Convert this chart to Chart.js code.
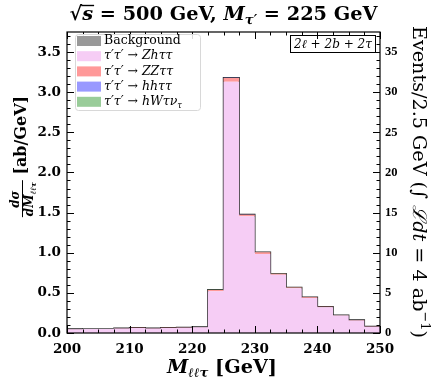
<!DOCTYPE html>
<html>
<head>
<meta charset="utf-8">
<script src="https://cdn.jsdelivr.net/npm/chart.js@4.4.1/dist/chart.umd.min.js"></script>
<style>
  html, body { margin: 0; padding: 0; background: #fff; }
  #wrap { width: 436px; height: 387px; position: relative; }
</style>
</head>
<body>
<div id="wrap"><canvas id="chart"></canvas></div>
<script>
// histogram bins: 2.5 GeV wide, 200 - 250 GeV (left edges)
const binStart = 200;
const binWidth = 2.5;

// dsigma/dM [ab/GeV] per bin
const background = [0.001, 0.001, 0.001, 0.001, 0.001, 0.001, 0.001, 0.001, 0.001, 0.001,
                    0.001, 0.001, 0.001, 0.001, 0.001, 0.001, 0.001, 0.001, 0.001, 0.001];
const zhtt = [0.046, 0.051, 0.051, 0.056, 0.061, 0.056, 0.061, 0.065, 0.070, 0.520,
              3.130, 1.452, 0.982, 0.725, 0.556, 0.436, 0.320, 0.216, 0.156, 0.077];
const zztt = [0.002, 0.002, 0.002, 0.002, 0.002, 0.002, 0.002, 0.003, 0.003, 0.015,
              0.046, 0.021, 0.023, 0.012, 0.010, 0.008, 0.006, 0.005, 0.004, 0.002];
const hhtt = [0.0005, 0.0005, 0.0005, 0.0005, 0.0005, 0.0005, 0.0005, 0.0005, 0.0005, 0.001,
              0.002, 0.001, 0.001, 0.001, 0.001, 0.001, 0.0005, 0.0005, 0.0005, 0.0005];
const hwtn = [0.0005, 0.0005, 0.0005, 0.0005, 0.0005, 0.0005, 0.0005, 0.0005, 0.0005, 0.001,
              0.001, 0.001, 0.001, 0.001, 0.0005, 0.0005, 0.0005, 0.0005, 0.0005, 0.0005];

// axis ranges / ticks
const xMin = 200, xMax = 250, xMajor = 10, xMinor = 2.5;
const yMax = 3.75, yMajor = 0.5, yMinor = 0.1;
const eventsScale = 10;   // 2.5 GeV * 4 ab^-1

const serif = '"DejaVu Serif", "Liberation Serif", serif';

// step points: value holds from the left edge until the next point
function steps(vals) {
  const pts = vals.map((v, i) => ({ x: binStart + i * binWidth, y: v }));
  pts.push({ x: binStart + vals.length * binWidth, y: vals[vals.length - 1] });
  return pts;
}

const total = zhtt.map((v, i) => v + background[i] + zztt[i] + hhtt[i] + hwtn[i]);

const series = [
  { label: 'Background', vals: background, color: 'rgb(153,153,153)', parts: [['Background', 'n']] },
  { label: "τ'τ' → Zhττ", vals: zhtt, color: 'rgb(246,205,245)', parts: [['τ′τ′', 'i'], [' → ', 'n'], ['Zhττ', 'i']] },
  { label: "τ'τ' → ZZττ", vals: zztt, color: 'rgb(255,153,153)', parts: [['τ′τ′', 'i'], [' → ', 'n'], ['ZZττ', 'i']] },
  { label: "τ'τ' → hhττ", vals: hhtt, color: 'rgb(153,153,255)', parts: [['τ′τ′', 'i'], [' → ', 'n'], ['hhττ', 'i']] },
  { label: "τ'τ' → hWτν", vals: hwtn, color: 'rgb(153,204,153)', parts: [['τ′τ′', 'i'], [' → ', 'n'], ['hWτν', 'i'], ['τ', 'is']] }
];

const datasets = series.map((s, i) => ({
  label: s.label,
  data: steps(s.vals),
  stepped: true,
  fill: i === 0 ? 'origin' : '-1',
  backgroundColor: s.color,
  borderWidth: 0,
  pointRadius: 0,
  stack: 'sig'
}));
datasets.push({
  label: 'total',
  data: steps(total),
  stepped: true,
  fill: false,
  borderColor: '#222',
  borderWidth: 1.4,
  pointRadius: 0,
  stack: 'outline'
});

// text runs: n normal, i italic, s subscript, p superscript
let boldText = false;
function fontFor(kind, size) {
  const it = kind.indexOf('i') >= 0 ? 'italic ' : '';
  const sz = (kind.indexOf('s') >= 0 || kind.indexOf('p') >= 0) ? size * 0.68 : size;
  return it + (boldText ? 'bold ' : '') + sz + 'px ' + serif;
}
function runWidth(ctx, parts, size) {
  let w = 0;
  parts.forEach(p => {
    ctx.font = fontFor(p[1], size);
    w += ctx.measureText(p[0]).width;
  });
  return w;
}
function drawRun(ctx, parts, x, y, size) {
  ctx.textAlign = 'left';
  ctx.textBaseline = 'middle';
  parts.forEach(p => {
    ctx.font = fontFor(p[1], size);
    let dy = 0;
    if (p[1].indexOf('s') >= 0) dy = size * 0.3;
    if (p[1].indexOf('p') >= 0) dy = -size * 0.35;
    ctx.fillText(p[0], x, y + dy);
    x += ctx.measureText(p[0]).width;
  });
  return x;
}
// font size that makes a run span a given width
function fitSize(ctx, parts, width) {
  return 16 * width / runWidth(ctx, parts, 16);
}

function keepMultiples(step) {
  return scale => {
    scale.ticks = scale.ticks.filter(t => Math.abs(t.value / step - Math.round(t.value / step)) < 1e-6);
  };
}

const decorations = {
  id: 'decorations',
  afterDraw(chart) {
    const ctx = chart.ctx;
    const a = chart.chartArea;
    const xs = chart.scales.x, ys = chart.scales.y;
    ctx.save();
    ctx.fillStyle = '#000';
    ctx.strokeStyle = '#000';

    // frame
    ctx.lineWidth = 1.2;
    ctx.strokeRect(a.left, a.top, a.right - a.left, a.bottom - a.top);

    // inward ticks, all four sides
    ctx.lineWidth = 1;
    ctx.beginPath();
    for (let v = xMin; v <= xMax + 1e-6; v += xMinor) {
      const px = Math.round(xs.getPixelForValue(v)) + 0.5;
      const len = Math.abs(v % xMajor) < 1e-6 ? 7 : 3.5;
      ctx.moveTo(px, a.bottom); ctx.lineTo(px, a.bottom - len);
      ctx.moveTo(px, a.top); ctx.lineTo(px, a.top + len);
    }
    for (let k = 0; k * yMinor <= yMax + 1e-6; k++) {
      const py = Math.round(ys.getPixelForValue(k * yMinor)) + 0.5;
      const len = k % 5 === 0 ? 7 : 3.5;
      ctx.moveTo(a.left, py); ctx.lineTo(a.left + len, py);
      ctx.moveTo(a.right, py); ctx.lineTo(a.right - len, py);
    }
    ctx.stroke();

    boldText = true;
    // title
    const tparts = [['√', 'n'], ['s', 'i'], [' = 500 GeV, ', 'n'], ['M', 'i'], ['τ′', 'is'], [' = 225 GeV', 'n']];
    const tsize = fitSize(ctx, tparts, 308);
    const tw = runWidth(ctx, tparts, tsize);
    const t0 = (a.left + a.right) / 2 - tw / 2;
    drawRun(ctx, tparts, t0, 15, tsize);
    ctx.font = fontFor('n', tsize);
    const rootX = t0 + ctx.measureText('√').width;
    ctx.font = fontFor('i', tsize);
    ctx.beginPath();
    ctx.lineWidth = 1.4;
    ctx.moveTo(rootX - 1, 5.5); ctx.lineTo(rootX + ctx.measureText('s').width + 1, 5.5);
    ctx.stroke();

    // x axis title
    const xparts = [['M', 'i'], ['ℓℓτ', 'is'], [' [GeV]', 'n']];
    const xsize = fitSize(ctx, xparts, 110);
    const xw = runWidth(ctx, xparts, xsize);
    drawRun(ctx, xparts, 222 - xw / 2, 368, xsize);

    // left y title (rotated), fraction + units
    ctx.save();
    ctx.translate(22, 157);
    ctx.rotate(-Math.PI / 2);
    const unit = [[' [ab/GeV]', 'n']];
    const fracW = 38;
    const uw = runWidth(ctx, unit, 16);
    const start = -(fracW + uw) / 2;
    ctx.textAlign = 'center';
    ctx.textBaseline = 'alphabetic';
    ctx.font = fontFor('i', 12);
    ctx.fillText('dσ', start + fracW / 2, -3);
    ctx.beginPath();
    ctx.lineWidth = 1;
    ctx.moveTo(start + 1, 0.5); ctx.lineTo(start + fracW, 0.5);
    ctx.stroke();
    drawRun(ctx, [['dM', 'i'], ['ℓℓτ', 'is']], start + 2, 8, 12);
    drawRun(ctx, unit, start + fracW, 0, 16);
    ctx.restore();
    boldText = false;

    // right y title (rotated clockwise)
    ctx.save();
    ctx.translate(418, 182);
    ctx.rotate(Math.PI / 2);
    const rparts = [['Events/2.5 GeV (', 'n'], ['∫ ', 'n'], ['ℒdt', 'i'], [' = 4 ab', 'n'], ['−1', 'p'], [')', 'n']];
    const rsize = fitSize(ctx, rparts, 312);
    const rw = runWidth(ctx, rparts, rsize);
    drawRun(ctx, rparts, -rw / 2, 0, rsize);
    ctx.restore();

    // channel box
    ctx.lineWidth = 1;
    ctx.strokeRect(290.5, 35.5, 85, 17);
    const cparts = [['2ℓ + 2b + 2τ', 'i']];
    const csize = fitSize(ctx, cparts, 78);
    const cw = runWidth(ctx, cparts, csize);
    drawRun(ctx, cparts, 333 - cw / 2, 44.5, csize);

    // legend
    const lx = 75, ly = 34, lw = 125, lh = 76;
    ctx.fillStyle = 'rgba(255,255,255,0.85)';
    ctx.strokeStyle = '#d8d8d8';
    ctx.beginPath();
    ctx.roundRect(lx + 0.5, ly + 0.5, lw, lh, 3);
    ctx.fill();
    ctx.stroke();
    series.forEach((s, i) => {
      const cy = ly + 7 + i * 15.2;
      ctx.fillStyle = s.color;
      ctx.fillRect(lx + 2, cy - 5, 24, 10);
      ctx.fillStyle = '#000';
      drawRun(ctx, s.parts, lx + 29, cy, 12.5);
    });

    ctx.restore();
  }
};

new Chart(document.getElementById('chart'), {
  type: 'line',
  data: { datasets: datasets },
  options: {
    responsive: true,
    maintainAspectRatio: false,
    animation: false,
    layout: { padding: { top: 32, left: 0, right: 0, bottom: 0 } },
    plugins: {
      legend: { display: false },
      tooltip: { enabled: false }
    },
    scales: {
      x: {
        type: 'linear',
        min: xMin,
        max: xMax,
        grid: { display: false, drawTicks: false },
        border: { display: false },
        ticks: { stepSize: xMajor, color: '#000', padding: 8, font: { family: serif, size: 13.5, weight: 'bold' } },
        afterBuildTicks: keepMultiples(xMajor),
        afterFit(scale) { scale.height = 54; }
      },
      y: {
        type: 'linear',
        position: 'left',
        min: 0,
        max: yMax,
        stacked: true,
        grid: { display: false, drawTicks: false },
        border: { display: false },
        ticks: { stepSize: yMajor, color: '#000', padding: 6,
                 font: { family: serif, size: 13.5, weight: 'bold' },
                 callback: v => v.toFixed(1) },
        afterBuildTicks: keepMultiples(yMajor),
        afterFit(scale) { scale.width = 67; }
      },
      y2: {
        type: 'linear',
        position: 'right',
        min: 0,
        max: yMax * eventsScale,
        grid: { display: false, drawTicks: false },
        border: { display: false },
        ticks: { stepSize: 5, color: '#000', padding: 5, font: { family: '"Liberation Serif", serif', size: 12.5, weight: 'bold' } },
        afterBuildTicks: keepMultiples(5),
        afterFit(scale) { scale.width = 56; }
      }
    }
  },
  plugins: [decorations]
});
</script>
</body>
</html>
